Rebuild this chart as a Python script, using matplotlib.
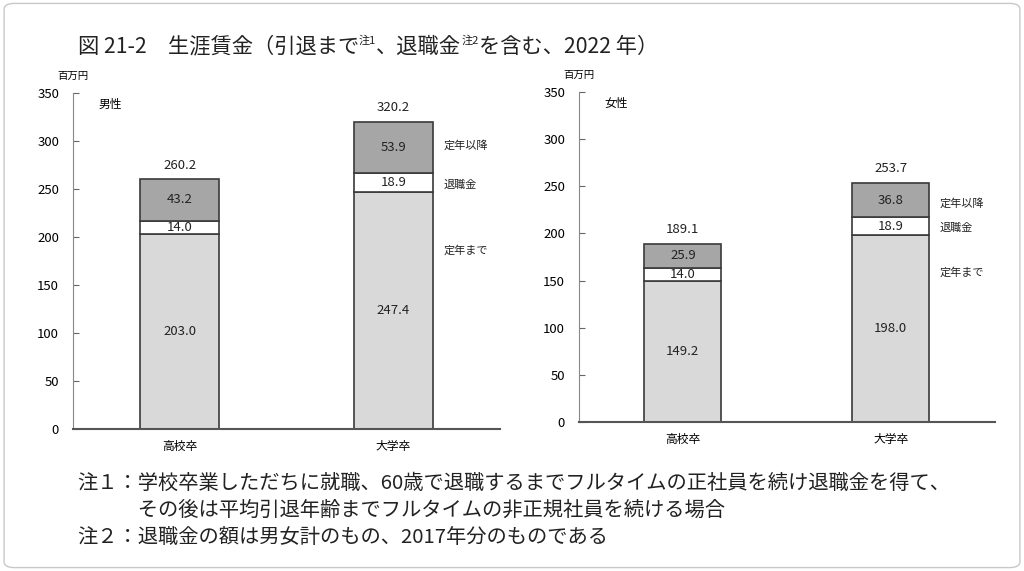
import matplotlib.pyplot as plt
from matplotlib.patches import FancyBboxPatch

plt.rcParams['font.family'] = ['Noto Sans CJK JP', 'DejaVu Sans']

categories = ["高校卒", "大学卒"]
segments = ["定年まで", "退職金", "定年以降"]

male_until = [203.0, 247.4]
male_bonus = [14.0, 18.9]
male_after = [43.2, 53.9]
male_total = [260.2, 320.2]

female_until = [149.2, 198.0]
female_bonus = [14.0, 18.9]
female_after = [25.9, 36.8]
female_total = [189.1, 253.7]

colors = ["#d9d9d9", "#ffffff", "#a6a6a6"]
edge = "#3a3a3a"

fig = plt.figure(figsize=(10.24, 5.71), dpi=100)

# outer frame
frame = FancyBboxPatch((0.004, 0.006), 0.992, 0.988, boxstyle="round,pad=0,rounding_size=0.01",
                       transform=fig.transFigure, fill=False, edgecolor="#c8c8c8", linewidth=1)
fig.patches.append(frame)

# title built from pieces so the note marks can be superscripts
title_parts = [("図 21-2　生涯賃金（引退まで", False), ("注1", True), ("、退職金", False),
               ("注2", True), ("を含む、2022 年）", False)]
renderer = fig.canvas.get_renderer()
tx = 0.076
for part, sup in title_parts:
    if sup:
        t = fig.text(tx, 0.929, part, fontsize=8, color="#222222", va="center")
    else:
        t = fig.text(tx, 0.918, part, fontsize=15.3, color="#222222", va="center")
    bb = t.get_window_extent(renderer)
    tx += bb.width / fig.bbox.width


def draw_panel(ax, until, bonus, after, total, sex, label_ys):
    x = range(len(categories))
    bottom2 = [a + b for a, b in zip(until, bonus)]
    ax.bar(x, until, width=0.37, color=colors[0], edgecolor=edge, linewidth=1.2)
    ax.bar(x, bonus, width=0.37, bottom=until, color=colors[1], edgecolor=edge, linewidth=1.2)
    ax.bar(x, after, width=0.37, bottom=bottom2, color=colors[2], edgecolor=edge, linewidth=1.2)
    for i in x:
        ax.text(i, until[i] / 2, f"{until[i]:.1f}", ha="center", va="center", fontsize=9.5, color="#222222")
        ax.text(i, until[i] + bonus[i] / 2, f"{bonus[i]:.1f}", ha="center", va="center", fontsize=9.5, color="#222222")
        ax.text(i, bottom2[i] + after[i] / 2, f"{after[i]:.1f}", ha="center", va="center", fontsize=9.5, color="#222222")
        ax.text(i, total[i] + 8, f"{total[i]:.1f}", ha="center", va="bottom", fontsize=9.5, color="#222222")
    for name, yy in zip(segments, label_ys):
        ax.text(1.235, yy, name, ha="left", va="center", fontsize=8, color="#222222")
    ax.set_xlim(-0.5, 1.5)
    ax.set_ylim(0, 350)
    ax.set_yticks(range(0, 351, 50))
    ax.set_xticks(list(x))
    ax.set_xticklabels(categories, fontsize=8.5)
    ax.tick_params(axis="x", length=0, pad=8)
    ax.tick_params(axis="y", direction="in", length=4, labelsize=9.5, pad=10, color="#666666")
    ax.spines["top"].set_visible(False)
    ax.spines["right"].set_visible(False)
    ax.spines["left"].set_color("#888888")
    ax.spines["bottom"].set_color("#555555")
    ax.spines["bottom"].set_linewidth(1.5)
    ax.text(0.0, 1.035, "百万円", transform=ax.transAxes, ha="center", va="bottom", fontsize=7.5)
    ax.text(0.06, 0.985, sex, transform=ax.transAxes, ha="left", va="top", fontsize=8.5)


ax1 = fig.add_axes([0.0713, 0.2487, 0.417, 0.5884])
draw_panel(ax1, male_until, male_bonus, male_after, male_total, "男性", [186, 254, 295])

ax2 = fig.add_axes([0.5654, 0.261, 0.406, 0.578])
draw_panel(ax2, female_until, female_bonus, female_after, female_total, "女性", [158, 206, 232])

notes = [
    "注１：学校卒業しただちに就職、60歳で退職するまでフルタイムの正社員を続け退職金を得て、",
    "　　　その後は平均引退年齢までフルタイムの非正規社員を続ける場合",
    "注２：退職金の額は男女計のもの、2017年分のものである",
]
note_ys = [0.154, 0.107, 0.058]
for line, yy in zip(notes, note_ys):
    fig.text(0.075, yy, line, fontsize=14.6, color="#222222", va="center")

fig.savefig("out.png", dpi=100)
